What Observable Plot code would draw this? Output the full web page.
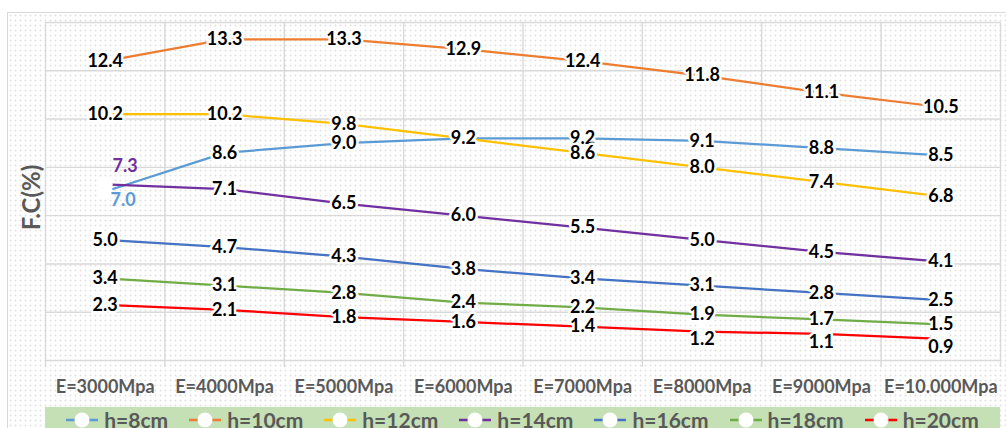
<!DOCTYPE html>
<html>
<head>
<meta charset="utf-8">
<script src="https://cdn.jsdelivr.net/npm/d3@7"></script>
<script src="https://cdn.jsdelivr.net/npm/@observablehq/plot@0.6"></script>
<style>
  html, body { margin: 0; padding: 0; background: white; width: 1006px; height: 428px; overflow: hidden; }
  #frame { position: absolute; left: 7px; top: 12px; width: 1010px; height: 430px;
    border: 1px solid #d9d9d9; box-sizing: border-box;
    background-color: #ffffff;
    background-image: radial-gradient(circle, #e2e2e2 0.9px, transparent 1.1px);
    background-size: 5px 5px; }
  #chart { position: absolute; left: 0; top: 0; width: 1006px; }
  #legend { position: absolute; left: 45px; top: 407px; width: 955px; height: 30px;
    background: #c5e0b4; display: flex; justify-content: center; align-items: flex-start;
    font-family: Lato, sans-serif; font-weight: 700; font-size: 21px; color: #595959; }
  .item { display: flex; align-items: center; margin: 0 10.5px; height: 26px; line-height: 26px; }
  .item svg { margin-right: 6px; }
</style>
</head>
<body>
<div id="frame"></div>
<div id="chart"></div>
<div id="legend"></div>
<script>
const categories = ["E=3000Mpa", "E=4000Mpa", "E=5000Mpa", "E=6000Mpa", "E=7000Mpa", "E=8000Mpa", "E=9000Mpa", "E=10.000Mpa"];
const seriesNames = ["h=8cm", "h=10cm", "h=12cm", "h=14cm", "h=16cm", "h=18cm", "h=20cm"];
const h8  = [7.0, 8.6, 9.0, 9.2, 9.2, 9.1, 8.8, 8.5];
const h10 = [12.4, 13.3, 13.3, 12.9, 12.4, 11.8, 11.1, 10.5];
const h12 = [10.2, 10.2, 9.8, 9.2, 8.6, 8.0, 7.4, 6.8];
const h14 = [7.3, 7.1, 6.5, 6.0, 5.5, 5.0, 4.5, 4.1];
const h16 = [5.0, 4.7, 4.3, 3.8, 3.4, 3.1, 2.8, 2.5];
const h18 = [3.4, 3.1, 2.8, 2.4, 2.2, 1.9, 1.7, 1.5];
const h20 = [2.3, 2.1, 1.8, 1.6, 1.4, 1.2, 1.1, 0.9];
const seriesColors = ["#5B9BD5", "#ED7D31", "#FFC000", "#7030A0", "#4472C4", "#70AD47", "#FF0000"];

const allSeries = [h8, h10, h12, h14, h16, h18, h20];
const rows = [];
allSeries.forEach((vals, s) => vals.forEach((v, i) => rows.push({series: seriesNames[s], s, i, x: i + 0.5, value: v})));

const fmt = v => v.toFixed(1);
const firstSpecial = d => d.i === 0 && (d.s === 0 || d.s === 3);
const redTail = d => d.s === 6 && d.i >= 5;
const mainLabels = rows.filter(d => !firstSpecial(d) && !redTail(d));

const labelStyle = {fontFamily: "Lato, sans-serif", fontWeight: 700, fontSize: 18, lineAnchor: "middle",
  stroke: "white", strokeWidth: 5, strokeOpacity: 1};

const chart = Plot.plot({
  width: 1006, height: 406,
  marginLeft: 45, marginRight: 6, marginTop: 22, marginBottom: 46,
  style: {background: "transparent", fontFamily: "Lato, sans-serif"},
  x: {domain: [0, 8], axis: null},
  y: {domain: [0, 14], axis: null},
  color: {domain: seriesNames, range: seriesColors},
  marks: [
    Plot.ruleY(d3.range(0, 15, 2), {stroke: "#d9d9d9", strokeWidth: 1.4}),
    Plot.ruleX(d3.range(0, 9), {stroke: "#d9d9d9", strokeWidth: 1.4, insetBottom: -7}),
    Plot.line(rows, {x: "x", y: "value", z: "series", stroke: "series", strokeWidth: 2.25}),
    Plot.dot(rows, {x: "x", y: "value", r: 7.5, fill: "white", stroke: null}),
    Plot.text(mainLabels, {x: "x", y: "value", text: d => fmt(d.value), fill: "black", ...labelStyle}),
    Plot.text(rows.filter(redTail), {x: "x", y: "value", text: d => fmt(d.value), fill: "black", dy: 8, ...labelStyle}),
    Plot.text(rows.filter(d => firstSpecial(d) && d.s === 3), {x: "x", y: "value", text: d => fmt(d.value), fill: "#7030A0", dx: 20, dy: -18, ...labelStyle, stroke: null}),
    Plot.text(rows.filter(d => firstSpecial(d) && d.s === 0), {x: "x", y: "value", text: d => fmt(d.value), fill: "#5B9BD5", dx: 18, dy: 9, ...labelStyle, stroke: null}),
    Plot.text(categories, {x: (d, i) => i + 0.5, frameAnchor: "bottom", dy: 27, lineAnchor: "middle", text: d => d,
      fill: "#595959", fontSize: 18, fontWeight: 700, fontFamily: "Lato, sans-serif"}),
    Plot.text(["F.C(%)"], {frameAnchor: "left", textAnchor: "middle", dx: -13, dy: 6, rotate: -90, text: d => d, lineAnchor: "middle",
      fill: "#595959", fontSize: 24, fontWeight: 700, fontFamily: "Lato, sans-serif"})
  ]
});
document.getElementById("chart").appendChild(chart);

const legend = document.getElementById("legend");
seriesNames.forEach((name, k) => {
  const item = document.createElement("div");
  item.className = "item";
  item.innerHTML = `<svg width="32" height="18"><line x1="0" x2="32" y1="9" y2="9" stroke="${seriesColors[k]}" stroke-width="2.5"/><circle cx="16" cy="9" r="7.5" fill="white"/></svg><span>${name}</span>`;
  legend.appendChild(item);
});
</script>
</body>
</html>
